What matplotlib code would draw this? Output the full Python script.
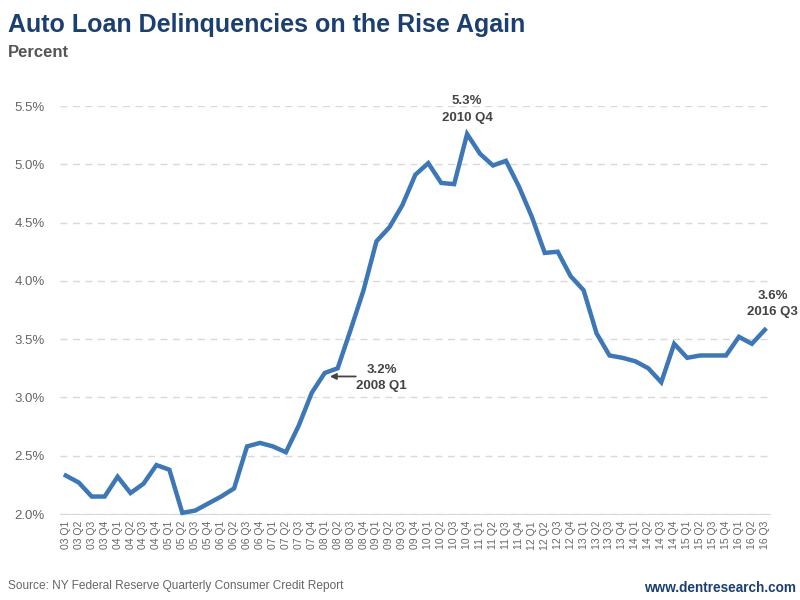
import matplotlib.pyplot as plt
import matplotlib.ticker as mticker

# quarterly auto loan 90+ day delinquency rate, 2003 Q1 - 2016 Q3
quarters = [f"{y:02d} Q{q}" for y in range(3, 17) for q in range(1, 5)][:55]
rate = [2.33, 2.27, 2.15, 2.15, 2.32, 2.18, 2.26, 2.42,
        2.38, 2.01, 2.03, 2.09, 2.15, 2.22, 2.58, 2.61,
        2.58, 2.53, 2.76, 3.04, 3.21, 3.25, 3.58, 3.92,
        4.34, 4.46, 4.65, 4.91, 5.01, 4.84, 4.83, 5.26,
        5.09, 4.99, 5.03, 4.81, 4.55, 4.24, 4.25, 4.04,
        3.92, 3.55, 3.36, 3.34, 3.31, 3.25, 3.13, 3.46,
        3.34, 3.36, 3.36, 3.36, 3.52, 3.46, 3.58]
yticks = [2.0, 2.5, 3.0, 3.5, 4.0, 4.5, 5.0, 5.5]

plt.rcParams['font.family'] = ['Liberation Sans', 'DejaVu Sans']

fig = plt.figure(figsize=(8, 6), dpi=100)
ax = fig.add_axes([0.075, 0.1433, 0.8875, 0.68])

x = list(range(len(rate)))
ax.plot(x, rate, color='#3d77b6', lw=3.2, solid_joinstyle='miter', clip_on=False, zorder=3)

ax.set_xlim(-0.45, 54.4)
ax.set_ylim(2.0, 5.5)
ax.set_yticks(yticks)
ax.yaxis.set_major_formatter(mticker.FuncFormatter(lambda v, p: f"{v:.1f}%"))
ax.set_xticks(x)
ax.set_xticklabels(quarters, rotation=90, fontsize=7.5, color='#666666')
ax.tick_params(axis='y', labelsize=9.5, colors='#666666', length=0, pad=11)
ax.tick_params(axis='x', length=0, pad=5)
ax.grid(axis='y', color='#d9d9d9', linestyle=(0, (5, 4)), lw=1)
ax.set_axisbelow(True)
for s in ['top', 'right', 'left']:
    ax.spines[s].set_visible(False)
ax.spines['bottom'].set_color('#d9d9d9')

# annotations
lab = dict(fontsize=9.5, fontweight='bold', color='#444444', linespacing=1.45)
pk = rate.index(max(rate))
ax.text(pk, 5.35, f"{rate[pk]:.1f}%\n2010 Q4", ha='center', va='bottom', **lab)
ax.annotate("", xy=(20.4, 3.18), xytext=(22.4, 3.18),
            arrowprops=dict(arrowstyle='-|>', color='#444444', lw=1.3, mutation_scale=9,
                            shrinkA=0, shrinkB=0))
ax.text(24.4, 3.165, f"{rate[20]:.1f}%\n2008 Q1", ha='center', va='center', **lab)
ax.text(54.6, rate[-1] + 0.1, f"{rate[-1]:.1f}%\n2016 Q3", ha='center', va='bottom', **lab)

fig.text(0.01, 0.978, "Auto Loan Delinquencies on the Rise Again", ha='left', va='top',
         fontsize=18, fontweight='bold', color='#1c3f72')
fig.text(0.01, 0.925, "Percent", ha='left', va='top', fontsize=12, fontweight='bold', color='#555555')
fig.text(0.01, 0.014, "Source: NY Federal Reserve Quarterly Consumer Credit Report", ha='left',
         va='bottom', fontsize=8.6, color='#666666')
fig.text(0.995, 0.008, "www.dentresearch.com", ha='right', va='bottom', fontsize=9.8,
         fontweight='bold', color='#1c3f72')

fig.savefig('out.png', dpi=100)
